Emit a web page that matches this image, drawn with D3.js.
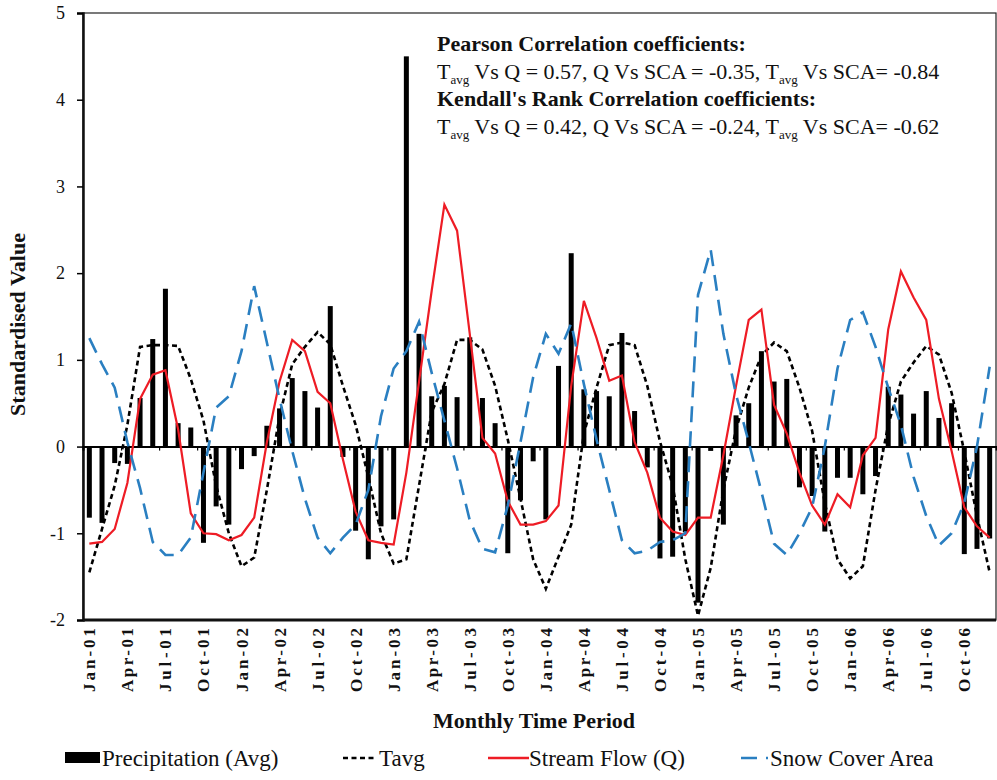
<!DOCTYPE html>
<html>
<head>
<meta charset="utf-8">
<script src="https://cdn.jsdelivr.net/npm/d3@7"></script>
<style>
  body { margin: 0; background: #fff; }
  svg { display: block; }
</style>
</head>
<body>
<svg id="chart" width="997" height="780" font-family="Liberation Serif, Times New Roman, serif"></svg>
<script>
// categories
const monthNames = ['Jan','Feb','Mar','Apr','May','Jun','Jul','Aug','Sep','Oct','Nov','Dec'];
const years = ['01','02','03','04','05','06'];
const periods = years.flatMap(y => monthNames.map(m => `${m}-${y}`));

// series (standardised values, Jan-01 .. Dec-06)
const precipitation = [
  -0.82, -0.88, -0.19, -0.20, 0.56, 1.24, 1.82, 0.27, 0.22, -1.11, -0.69, -0.90,
  -0.26, -0.11, 0.24, 0.44, 0.79, 0.64, 0.45, 1.62, -0.12, -0.97, -1.30, -0.92,
  -0.84, 4.50, 1.30, 0.58, 0.70, 0.57, 1.26, 0.56, 0.27, -1.23, -0.62, -0.17,
  -0.84, 0.93, 2.23, 0.66, 0.64, 0.58, 1.31, 0.41, -0.24, -1.29, -1.27, -0.99,
  -1.80, -0.05, -0.90, 0.36, 0.50, 1.10, 0.75, 0.78, -0.47, -0.57, -0.98, -0.36,
  -0.36, -0.55, -0.34, 0.69, 0.60, 0.38, 0.64, 0.33, 0.50, -1.24, -1.18, -1.06
];
const tavg = [
  -1.45, -0.95, -0.45, 0.25, 1.15, 1.17, 1.17, 1.16, 0.78, 0.30, -0.45, -1.00,
  -1.38, -1.28, -0.50, 0.35, 0.95, 1.15, 1.32, 1.18, 0.70, 0.25, -0.35, -1.00,
  -1.35, -1.30, -0.45, 0.40, 0.72, 1.23, 1.23, 1.12, 0.70, 0.08, -0.60, -1.30,
  -1.64, -1.27, -0.90, 0.15, 0.68, 1.17, 1.20, 1.17, 0.70, 0.06, -0.45, -1.30,
  -1.95, -1.40, -0.50, 0.20, 0.68, 1.05, 1.20, 1.10, 0.68, 0.18, -0.65, -1.30,
  -1.52, -1.38, -0.50, 0.25, 0.75, 0.97, 1.16, 1.06, 0.62, -0.06, -0.80, -1.45
];
const streamFlow = [
  -1.12, -1.10, -0.95, -0.42, 0.55, 0.83, 0.88, 0.20, -0.77, -1.00, -1.01, -1.08,
  -1.02, -0.82, 0.05, 0.75, 1.23, 1.10, 0.63, 0.50, -0.15, -0.75, -1.08, -1.11,
  -1.13, -0.30, 0.75, 1.80, 2.79, 2.49, 1.30, 0.10, -0.08, -0.63, -0.90, -0.90,
  -0.86, -0.68, 0.70, 1.68, 1.25, 0.76, 0.82, 0.05, -0.30, -0.82, -0.98, -1.02,
  -0.82, -0.82, -0.10, 0.70, 1.46, 1.58, 0.48, 0.15, -0.30, -0.68, -0.90, -0.55,
  -0.70, -0.10, 0.10, 1.35, 2.02, 1.72, 1.46, 0.55, -0.05, -0.70, -0.92, -1.05
];
const snowCover = [
  1.25, 0.95, 0.68, 0.05, -0.48, -1.10, -1.25, -1.25, -1.05, -0.30, 0.45, 0.58,
  1.10, 1.85, 1.20, 0.55, -0.05, -0.60, -1.05, -1.23, -1.05, -0.90, -0.50, 0.35,
  0.90, 1.10, 1.44, 0.85, 0.30, -0.25, -0.85, -1.18, -1.22, -0.68, 0.05, 0.80,
  1.30, 1.07, 1.42, 0.72, 0.08, -0.50, -1.08, -1.23, -1.20, -1.10, -1.08, -1.00,
  1.75, 2.27, 1.30, 0.60, 0.05, -0.52, -1.12, -1.25, -1.00, -0.70, 0.00, 0.90,
  1.46, 1.55, 1.15, 0.68, 0.25, -0.35, -0.80, -1.14, -1.00, -0.65, 0.00, 0.92
];
const yTicks = [-2, -1, 0, 1, 2, 3, 4, 5];

const svg = d3.select('#chart');
const margin = { top: 13, right: 1, bottom: 160, left: 83 };
const width = +svg.attr('width');
const height = +svg.attr('height');
const innerWidth = width - margin.left - margin.right;
const innerHeight = height - margin.top - margin.bottom;

const g = svg.append('g')
  .attr('transform', `translate(${margin.left},${margin.top})`);

const xScale = d3.scaleBand()
  .domain(periods)
  .range([0, innerWidth]);
const xMid = d => xScale(d) + xScale.bandwidth() / 2;

const yScale = d3.scaleLinear()
  .domain([-2, 5])
  .range([innerHeight, 0]);

// frame
g.append('rect')
  .attr('width', innerWidth)
  .attr('height', innerHeight)
  .attr('fill', 'none')
  .attr('stroke', '#222')
  .attr('stroke-width', 1.2);

// y-axis
const yAxis = d3.axisLeft(yScale)
  .tickValues(yTicks)
  .tickSize(6)
  .tickPadding(12)
  .tickFormat(d => String(d));
const yAxisG = g.append('g').call(yAxis)
  .attr('font-family', null);
yAxisG.select('.domain').attr('stroke-width', 2.5).attr('stroke', '#111');
yAxisG.selectAll('.tick line').attr('stroke-width', 1.5);
yAxisG.selectAll('text')
  .attr('font-size', 18)
  .attr('fill', '#111');

// bottom edge
g.append('line')
  .attr('x1', 0).attr('x2', innerWidth)
  .attr('y1', innerHeight).attr('y2', innerHeight)
  .attr('stroke', '#111')
  .attr('stroke-width', 3);

// precipitation bars
const barWidth = 5;
g.selectAll('.bar').data(precipitation)
  .enter().append('rect')
    .attr('class', 'bar')
    .attr('x', (d, i) => xMid(periods[i]) - barWidth / 2)
    .attr('width', barWidth)
    .attr('y', d => yScale(Math.max(0, d)))
    .attr('height', d => Math.abs(yScale(d) - yScale(0)))
    .attr('fill', '#000');

// category axis crossing at zero
const xAxis = d3.axisBottom(xScale)
  .tickValues(periods.filter((d, i) => i % 3 === 0))
  .tickSize(4)
  .tickFormat('');
const xAxisG = g.append('g')
  .attr('transform', `translate(0,${yScale(0)})`)
  .call(xAxis);
xAxisG.select('.domain').attr('stroke', '#000').attr('stroke-width', 2);
xAxisG.selectAll('.tick')
  .attr('transform', d => `translate(${xScale(d) + 0.5},0)`);
xAxisG.selectAll('.tick line').attr('stroke-width', 1.2);

// month labels at the bottom
g.append('g')
  .selectAll('text')
  .data(periods.filter((d, i) => i % 3 === 0))
  .enter().append('text')
    .attr('transform', d => `translate(${xMid(d) + 6},${innerHeight + 8}) rotate(-90)`)
    .attr('text-anchor', 'end')
    .attr('font-size', 17)
    .attr('font-weight', 'bold')
    .attr('textLength', 64)
    .attr('lengthAdjust', 'spacing')
    .attr('fill', '#111')
    .text(d => d);

// lines
const line = d3.line()
  .x((d, i) => xMid(periods[i]))
  .y(d => yScale(d));

g.append('path')
  .datum(tavg)
  .attr('d', line)
  .attr('fill', 'none')
  .attr('stroke', '#000')
  .attr('stroke-width', 2.6)
  .attr('stroke-dasharray', '5 3.5');

g.append('path')
  .datum(streamFlow)
  .attr('d', line)
  .attr('fill', 'none')
  .attr('stroke', '#ee1c25')
  .attr('stroke-width', 2.2);

g.append('path')
  .datum(snowCover)
  .attr('d', line)
  .attr('fill', 'none')
  .attr('stroke', '#2a7fc1')
  .attr('stroke-width', 2.6)
  .attr('stroke-dasharray', '16 9');

// axis titles
svg.append('text')
  .attr('transform', `translate(25,${margin.top + innerHeight / 2 + 8}) rotate(-90)`)
  .attr('text-anchor', 'middle')
  .attr('font-size', 22)
  .attr('font-weight', 'bold')
  .attr('fill', '#111')
  .text('Standardised Value');

svg.append('text')
  .attr('x', 534)
  .attr('y', 728)
  .attr('text-anchor', 'middle')
  .attr('font-size', 22)
  .attr('font-weight', 'bold')
  .attr('fill', '#111')
  .text('Monthly Time Period');

// correlation note
const note = svg.append('g').attr('transform', 'translate(437,0)').attr('fill', '#111');
const noteLines = [
  { bold: true, parts: ["Pearson Correlation coefficients:"] },
  { bold: false, parts: ['T', 'avg', ' Vs Q = 0.57, Q Vs SCA = -0.35, T', 'avg', ' Vs SCA= -0.84'] },
  { bold: true, parts: ["Kendall's Rank Correlation coefficients:"] },
  { bold: false, parts: ['T', 'avg', ' Vs Q = 0.42, Q Vs SCA = -0.24, T', 'avg', ' Vs SCA= -0.62'] }
];
noteLines.forEach((ln, k) => {
  const t = note.append('text')
    .attr('y', 51 + k * 27.7)
    .attr('font-size', 22)
    .attr('font-weight', ln.bold ? 'bold' : 'normal');
  ln.parts.forEach((p, j) => {
    const sub = p === 'avg';
    t.append('tspan')
      .attr('font-size', sub ? 13 : null)
      .attr('dy', sub ? 5 : (j > 0 && ln.parts[j - 1] === 'avg' ? -5 : 0))
      .text(p);
  });
});

// legend
const legend = svg.append('g').attr('transform', 'translate(0,758)');
const legendItems = [
  { label: 'Precipitation (Avg)', x: 65, type: 'bar' },
  { label: 'Tavg', x: 343, type: 'tavg' },
  { label: 'Stream Flow (Q)', x: 488, type: 'q' },
  { label: 'Snow Cover Area', x: 741, type: 'sca' }
];
legendItems.forEach(it => {
  const lg = legend.append('g').attr('transform', `translate(${it.x},0)`);
  if (it.type === 'bar') {
    lg.append('rect').attr('x', 0).attr('y', -6).attr('width', 35).attr('height', 11).attr('fill', '#000');
  } else {
    const sw = lg.append('line').attr('x1', 0).attr('y1', 0).attr('y2', 0);
    if (it.type === 'tavg') sw.attr('x2', 34).attr('stroke', '#000').attr('stroke-width', 2.6).attr('stroke-dasharray', '5 3.5');
    if (it.type === 'q') sw.attr('x2', 41).attr('stroke', '#ee1c25').attr('stroke-width', 2.6);
    if (it.type === 'sca') sw.attr('x2', 27).attr('stroke', '#2a7fc1').attr('stroke-width', 2.6).attr('stroke-dasharray', '16 9');
  }
  const offset = { bar: 37, tavg: 36, q: 41, sca: 29 }[it.type];
  lg.append('text')
    .attr('x', offset)
    .attr('y', 8)
    .attr('font-size', 23)
    .attr('fill', '#111')
    .text(it.label);
});
</script>
</body>
</html>
